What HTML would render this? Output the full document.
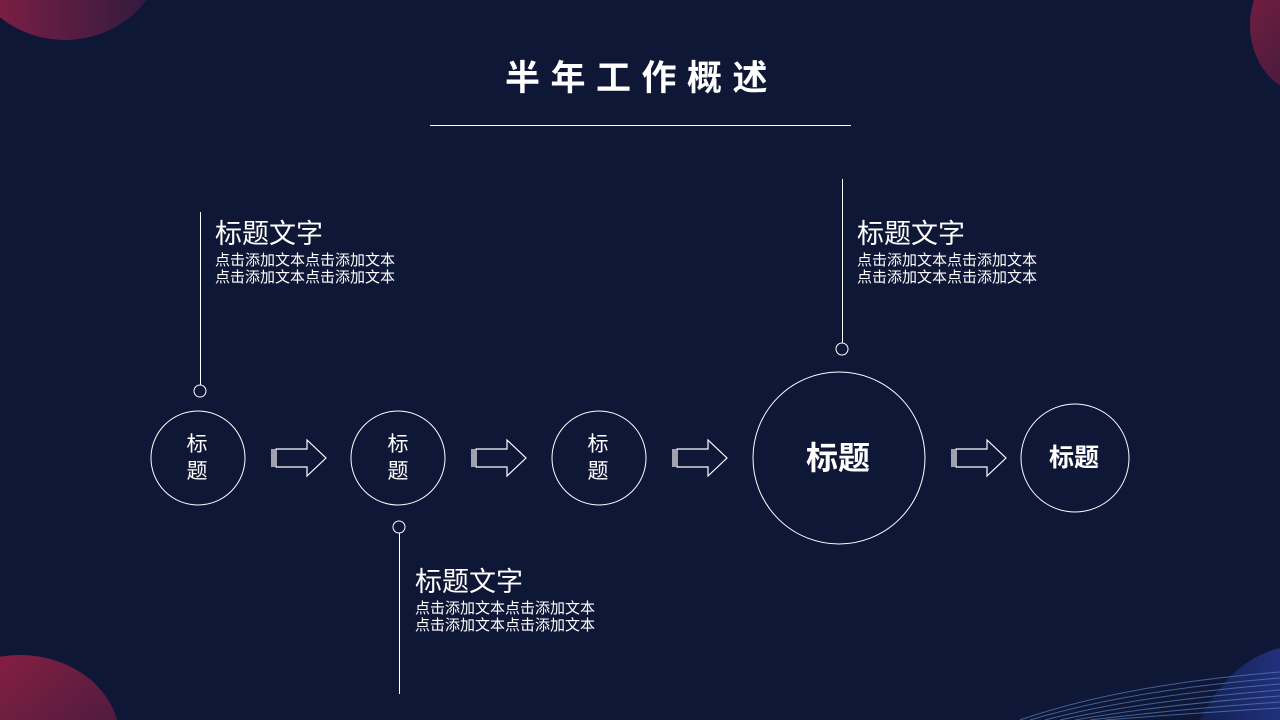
<!DOCTYPE html>
<html><head><meta charset="utf-8"><style>
html,body{margin:0;padding:0;width:1280px;height:720px;overflow:hidden;}
body{background:#0f1736;position:relative;font-family:"Liberation Sans","Noto Sans CJK SC",sans-serif;color:#fff;}
svg{display:block;}
.t{position:absolute;white-space:nowrap;}
.h{font-size:27px;line-height:30px;}
.b{font-size:15px;line-height:17px;margin-top:3px;}
</style></head><body>
<svg width="1280" height="720" style="position:absolute;left:0;top:0">
<defs>
<linearGradient id="r" x1="0" y1="0" x2="1" y2="0"><stop offset="0" stop-color="#8a1f45"/><stop offset="1" stop-color="#2a1a3e"/></linearGradient>
<linearGradient id="r2" x1="0" y1="0" x2="1" y2="1"><stop offset="0" stop-color="#9a2040"/><stop offset="1" stop-color="#2c1a40"/></linearGradient>
<linearGradient id="bl" x1="0" y1="0" x2="1" y2="0"><stop offset="0" stop-color="#15245a"/><stop offset="1" stop-color="#2a3b9a"/></linearGradient>
</defs>
<ellipse cx="65" cy="-55" rx="100" ry="95" fill="url(#r)"/>
<ellipse cx="1310" cy="25" rx="60" ry="70" fill="url(#r2)" opacity="0.8"/>
<ellipse cx="20" cy="740" rx="100" ry="85" fill="url(#r2)"/>
<path d="M1200 720 Q1230 660 1280 648 L1280 720 Z" fill="url(#bl)" opacity="0.7"/>
<g fill="none" stroke="#5a7fc0" stroke-width="1" opacity="0.7">
<path d="M1020 720 Q1120 685 1280 672"/><path d="M1030 720 Q1130 690 1280 678"/><path d="M1045 720 Q1140 695 1280 684"/><path d="M1060 720 Q1150 700 1280 690"/><path d="M1075 720 Q1160 705 1280 696"/><path d="M1090 720 Q1170 710 1280 702"/><path d="M1105 720 Q1180 714 1280 708"/>
</g>
<line x1="430" y1="125.5" x2="851" y2="125.5" stroke="#fff" stroke-width="1"/>
<g fill="none" stroke="#fff" stroke-width="1">
<circle cx="198" cy="458" r="47"/><circle cx="398" cy="458" r="47"/><circle cx="599" cy="458" r="47"/><circle cx="839" cy="458" r="86"/><circle cx="1075" cy="458" r="54"/>
<line x1="200.5" y1="212" x2="200.5" y2="385"/><circle cx="200" cy="391" r="6"/>
<line x1="842.5" y1="179" x2="842.5" y2="343"/><circle cx="842" cy="349" r="6"/>
<line x1="399.5" y1="533" x2="399.5" y2="694"/><circle cx="399" cy="527" r="6"/>
</g>
<g fill="none" stroke="#fff" stroke-width="1.2">
<path d="M276 449 H307 V440 L326 458 L307 476 V467 H276 Z M272 449 V467 M274 449 V467"/>
<path d="M476 449 H507 V440 L526 458 L507 476 V467 H476 Z M472 449 V467 M474 449 V467"/>
<path d="M677 449 H708 V440 L727 458 L708 476 V467 H677 Z M673 449 V467 M675 449 V467"/>
<path d="M956 449 H987 V440 L1006 458 L987 476 V467 H956 Z M952 449 V467 M954 449 V467"/>
</g>
</svg>
<div class="t" style="left:505px;top:56px;font-size:35px;font-weight:bold;letter-spacing:10.5px;line-height:46px;">半年工作概述</div>
<div class="t" style="left:177px;top:431px;width:40px;text-align:center;font-size:21px;line-height:27px;white-space:normal">标<br>题</div>
<div class="t" style="left:378px;top:431px;width:40px;text-align:center;font-size:21px;line-height:27px;white-space:normal">标<br>题</div>
<div class="t" style="left:578px;top:431px;width:40px;text-align:center;font-size:21px;line-height:27px;white-space:normal">标<br>题</div>
<div class="t" style="left:778px;top:438px;width:120px;text-align:center;font-size:32px;font-weight:bold;line-height:40px">标题</div>
<div class="t" style="left:1024px;top:443px;width:100px;text-align:center;font-size:25px;font-weight:bold;line-height:30px">标题</div>
<div class="t" style="left:215px;top:219px"><div class="h">标题文字</div><div class="b">点击添加文本点击添加文本<br>点击添加文本点击添加文本</div></div>
<div class="t" style="left:857px;top:219px"><div class="h">标题文字</div><div class="b">点击添加文本点击添加文本<br>点击添加文本点击添加文本</div></div>
<div class="t" style="left:415px;top:567px"><div class="h">标题文字</div><div class="b">点击添加文本点击添加文本<br>点击添加文本点击添加文本</div></div>
</body></html>
